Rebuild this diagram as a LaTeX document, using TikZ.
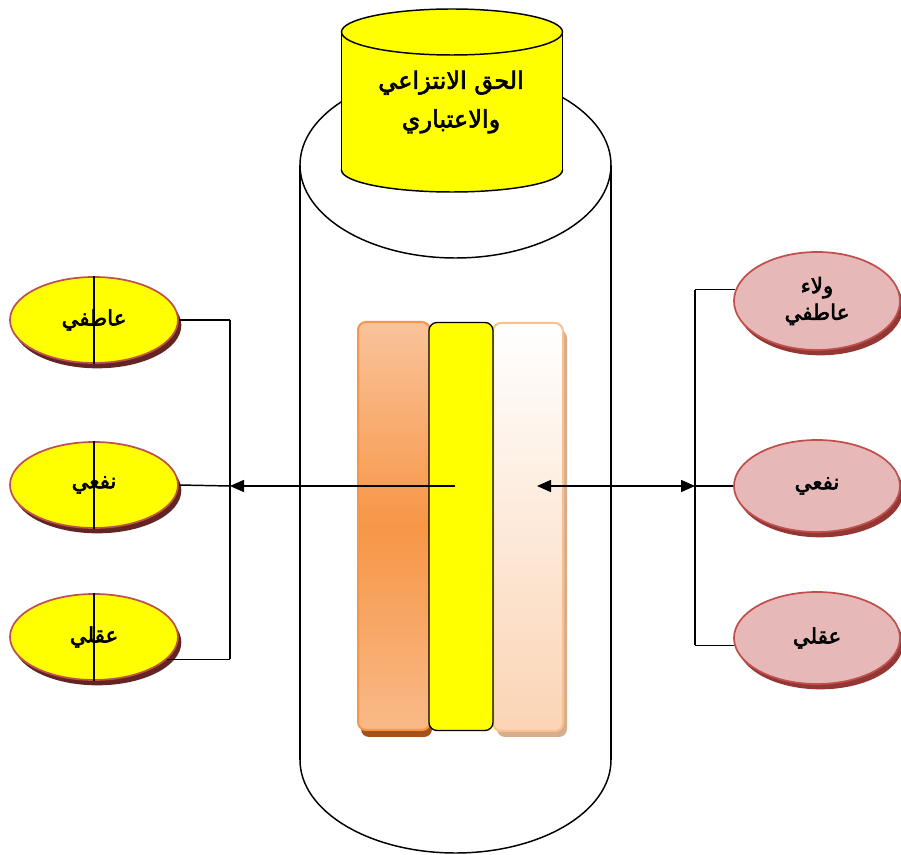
\documentclass[tikz,border=0pt]{standalone}
\usepackage{fontspec}
\usetikzlibrary{shapes.geometric,arrows.meta,shadows}
\TeXXeTstate=1
\newfontfamily\arfont[Script=Arabic,FakeBold=2.5]{DejaVu Sans}
\definecolor{yel}{HTML}{FFFF00}
\definecolor{ellborder}{HTML}{C0504D}
\definecolor{lshadow}{HTML}{632523}
\definecolor{rfill}{HTML}{E6B9B8}
\definecolor{rshadow}{HTML}{943634}
\definecolor{orTop}{HTML}{F9C39A}
\definecolor{orMid}{HTML}{F79646}
\definecolor{orBot}{HTML}{F8BA88}
\definecolor{orShadow}{HTML}{A5521A}
\definecolor{pchBot}{HTML}{FBD4B4}
\definecolor{pchBorder}{HTML}{FAC090}
\definecolor{pchShadow}{HTML}{D7AE8C}
\begin{document}
\begin{tikzpicture}[x=0.75pt,y=-0.75pt,
  line width=1.1pt,
  arfnt/.style={font=\arfont\fontsize{16}{20}\selectfont},
  lell/.style={ellipse, draw=ellborder, line width=1.3pt, fill=yel,
    minimum width=126pt, minimum height=64.5pt, inner sep=0pt, arfnt,
    drop shadow={shadow xshift=2.5pt, shadow yshift=-4pt, fill=lshadow, opacity=1}},
  rell/.style={ellipse, draw=ellborder, line width=1.3pt, fill=rfill,
    minimum width=124.5pt, minimum height=69pt, inner sep=0pt, arfnt, align=center,
    drop shadow={shadow xshift=2.5pt, shadow yshift=-4pt, fill=rshadow, opacity=1}},
  bus/.style={line width=1.1pt},
  tip/.style={line width=1.1pt},
  arrowtip/.tip={Triangle[length=10.5pt,width=9pt]},
  barbox/.style={rectangle, rounded corners=6pt, inner sep=0pt, minimum width=52.5pt, minimum height=306pt}
]
\useasboundingbox (0,0) rectangle (901,855);

% big cylinder
\draw[fill=white] (455.5,760) ellipse [x radius=155.5, y radius=93];
\fill[white] (300,165) rectangle (611,760);
\draw (300,165) -- (300,760);
\draw (611,165) -- (611,760);
\draw[fill=white] (455.5,165) ellipse [x radius=155.5, y radius=93];

% yellow cylinder
\draw[fill=yel] (452,170) ellipse [x radius=110.5, y radius=22];
\fill[yel] (341.5,32) rectangle (562.5,170);
\draw (341.5,32) -- (341.5,170);
\draw (562.5,32) -- (562.5,170);
\draw[fill=yel] (452,32) ellipse [x radius=110.5, y radius=23];
\node[font=\arfont\fontsize{18}{29}\selectfont, align=center] (title) at (451,102)
  {\beginR الحق الانتزاعي\endR\\\beginR والاعتباري\endR};

% bars
\fill[orShadow, rounded corners=6pt] (361,330) rectangle (432,737);
\node[barbox, minimum width=54pt, top color=orTop, bottom color=orBot, middle color=orMid,
  draw=orMid, line width=1.5pt] (lbar) at (394,526) {};
\fill[pchShadow, rounded corners=6pt] (497,330) rectangle (567,737);
\node[barbox, top color=white, bottom color=pchBot, draw=pchBorder, line width=1.5pt] (rbar) at (528,527) {};
\node[barbox, minimum width=48pt, fill=yel, draw=black, line width=1pt] (ybar) at (461,526.5) {};

% left ellipses
\node[lell] (L1) at (94,320) {\beginR عاطفي\endR};
\node[lell] (L2) at (94,485) {\beginR نفعي\endR};
\node[lell] (L3) at (94,637) {\beginR عقلي\endR};
\foreach \n in {L1,L2,L3} \draw (\n.north) -- (\n.south);

% right ellipses
\node[rell, minimum height=73.5pt] (R1) at (817,301) {\beginR ولاء\endR\\\beginR عاطفي\endR};
\node[rell] (R2) at (817,486) {\beginR نفعي\endR};
\node[rell] (R3) at (817,638) {\beginR عقلي\endR};

% connectors
\coordinate (lbus) at (230,486);
\coordinate (rbus) at (695,486);
\coordinate (astart) at (455,486);
\coordinate (bstart) at (537,486);
\draw[bus] (L1.east) -- (L1.east -| lbus);
\draw[bus] (L2.east) -- (lbus);
\draw[bus] (L3.-17) -- (L3.-17 -| lbus);
\draw[bus] (L1.east -| lbus) -- (L3.-17 -| lbus);
\draw[bus] (R1.172) -- (R1.172 -| rbus);
\draw[bus] (R2.west) -- (rbus);
\draw[bus] (R3.185) -- (R3.185 -| rbus);
\draw[bus] (R1.172 -| rbus) -- (R3.185 -| rbus);
\draw[tip, -arrowtip] (astart) -- (lbus);
\draw[tip, arrowtip-arrowtip] (bstart) -- (rbus);
\end{tikzpicture}
\end{document}
